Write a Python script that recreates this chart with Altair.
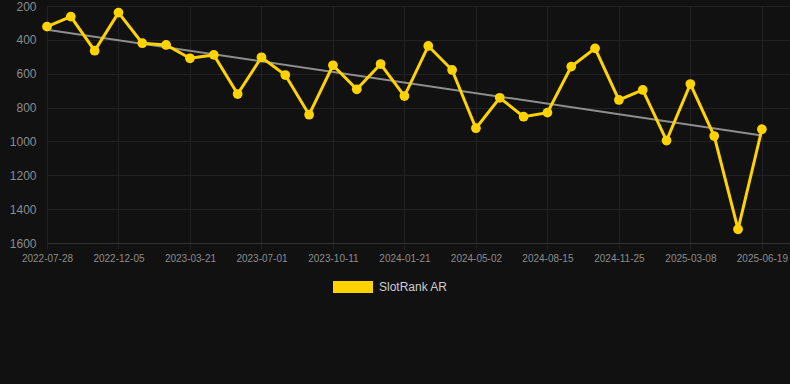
import altair as alt
import pandas as pd

# SlotRank AR values (one per period, categorical x axis)
ranks = [322, 263, 464, 239, 420, 430, 509, 489, 720, 503,
         608, 842, 550, 692, 543, 732, 436, 578, 922, 742,
         854, 830, 558, 450, 755, 696, 995, 661, 968, 1519, 928]

# labels shown on every third category
tick_labels = ["2022-07-28", "2022-12-05", "2023-03-21", "2023-07-01",
               "2023-10-11", "2024-01-21", "2024-05-02", "2024-08-15",
               "2024-11-25", "2025-03-08", "2025-06-19"]

y_ticks = [200, 400, 600, 800, 1000, 1200, 1400, 1600]
series_name = "SlotRank AR"

df = pd.DataFrame({
    "idx": list(range(len(ranks))),
    "rank": ranks,
    "series": [series_name] * len(ranks),
})

label_array = "[" + ",".join("'%s'" % t for t in tick_labels) + "]"

x_enc = alt.X(
    "idx:Q",
    scale=alt.Scale(domain=[0, 31.18], nice=False, zero=False),
    axis=alt.Axis(
        values=[i * 3 for i in range(len(tick_labels))],
        labelExpr=label_array + "[round(datum.value/3)]",
        title=None,
        grid=True,
        gridColor="#222222",
        domainColor="#333333",
        tickColor="#222222",
        tickSize=6,
        labelColor="#8c8c8c",
        labelFontSize=10,
        labelFont="Liberation Sans",
        labelPadding=4,
        labelFlush=False,
        labelOverlap=False,
    ),
)

y_enc = alt.Y(
    "rank:Q",
    scale=alt.Scale(domain=[200, 1600], reverse=True, nice=False, zero=False),
    axis=alt.Axis(
        values=y_ticks,
        format="d",
        title=None,
        grid=True,
        gridColor="#222222",
        domain=False,
        ticks=False,
        labelColor="#8c8c8c",
        labelFontSize=12,
        labelFont="Liberation Sans",
        labelPadding=11,
        labelFlush=False,
    ),
)

base = alt.Chart(df)

trend = base.transform_regression("idx", "rank").mark_line(
    color="#8e8e8e", strokeWidth=2
).encode(x=x_enc, y=y_enc)

line = base.mark_line(strokeWidth=3).encode(
    x=x_enc,
    y=y_enc,
    color=alt.Color(
        "series:N",
        scale=alt.Scale(domain=[series_name], range=["#FFD300"]),
        legend=alt.Legend(
            title=None,
            orient="none",
            legendX=286,
            legendY=261,
            symbolType="M-1,-0.3H1V0.3H-1Z",
            symbolSize=1600,
            symbolStrokeWidth=0,
            symbolFillColor="#FFD300",
            labelColor="#cccccc",
            labelFontSize=12,
            labelFont="Liberation Sans",
            labelOffset=6,
        ),
    ),
)

points = base.mark_point(filled=True, size=95, opacity=1).encode(
    x=x_enc,
    y=y_enc,
    color=alt.Color("series:N", scale=alt.Scale(domain=[series_name], range=["#FFD300"]), legend=None),
)

chart = alt.layer(trend, line, points).properties(
    width=743,
    height=237,
    background="#111111",
    padding={"left": 47, "top": 6, "right": 0, "bottom": 141},
    autosize=alt.AutoSizeParams(type="none"),
).configure_view(stroke=None)

chart.save("out.html", embed_options={"renderer": "svg", "actions": False})
